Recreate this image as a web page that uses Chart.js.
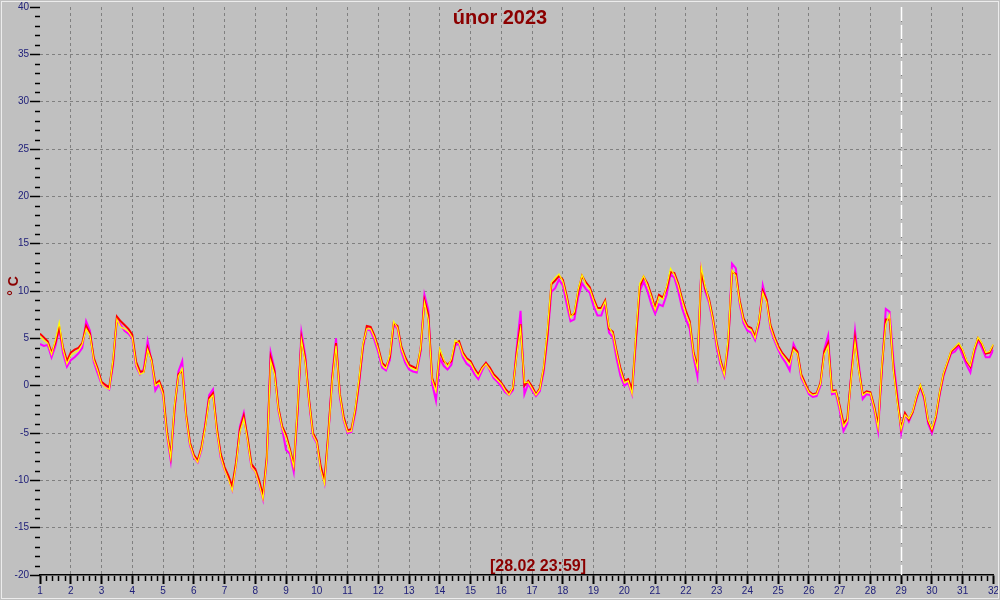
<!DOCTYPE html>
<html>
<head>
<meta charset="utf-8">
<script src="https://cdn.jsdelivr.net/npm/chart.js@4"></script>
<style>
  body { margin: 0; background: #c0c0c0; }
  canvas { display: block; background: #c0c0c0; }
</style>
</head>
<body>
<canvas id="chart" width="1000" height="600"></canvas>
<script>
// Temperature samples every 3 hours, starting at day 1 00:00 (8 per day)
const firstDay = 1;
const stepsPerDay = 8;

// red sensor
const redTemps = [
  5.5, 5.1, 4.7, 3.5, 4.5, 6.2, 4.0, 2.6,
  3.5, 3.8, 4.0, 4.5, 6.3, 5.5, 2.9, 1.8,
  0.4, 0.1, -0.2, 2.5, 7.3, 6.8, 6.4, 6.0,
  5.4, 2.5, 1.5, 1.5, 4.0, 2.8, 0.2, 0.5,
  -0.6, -4.8, -7.4, -2.3, 1.2, 1.6, -3.0, -6.0,
  -7.3, -7.9, -6.5, -4.2, -1.3, -0.8, -4.5, -7.2,
  -8.6, -9.5, -10.6, -8.1, -4.6, -3.2, -5.5, -8.3,
  -8.8, -10.0, -11.6, -7.5, 3.0, 1.5, -2.3, -4.3,
  -5.2, -6.7, -8.4, -2.5, 5.0, 2.8, -1.5, -5.0,
  -5.8, -8.5, -10.0, -5.0, 0.7, 4.5, -0.9, -3.3,
  -4.7, -4.6, -2.6, 0.5, 4.2, 6.3, 6.2, 5.3,
  4.0, 2.4, 2.0, 3.0, 6.6, 6.3, 4.1, 3.0,
  2.2, 2.0, 1.8, 3.8, 9.0, 7.5, 0.8, -0.3,
  3.7, 2.6, 2.2, 2.6, 4.5, 4.7, 3.5, 2.9,
  2.6, 1.8, 1.2, 1.9, 2.4, 1.9, 1.2, 0.8,
  0.3, -0.3, -0.8, -0.3, 3.5, 6.5, 0.0, 0.5,
  -0.1, -0.9, -0.3, 1.8, 5.5, 10.7, 11.1, 11.6,
  11.2, 9.5, 7.4, 7.6, 10.0, 11.6, 10.9, 10.4,
  9.2, 8.2, 8.2, 9.0, 6.0, 5.7, 3.6, 1.8,
  0.5, 0.7, -0.4, 5.0, 10.5, 11.5, 10.8, 9.6,
  8.2, 9.6, 9.3, 10.3, 12.0, 11.9, 10.8, 9.2,
  7.9, 6.8, 3.5, 2.0, 12.0, 10.3, 9.2, 7.2,
  4.6, 2.7, 1.3, 4.5, 12.0, 11.8, 9.0, 7.1,
  6.3, 6.1, 5.2, 6.7, 10.0, 9.1, 6.4, 5.2,
  4.2, 3.5, 3.0, 2.5, 4.0, 3.6, 1.2, 0.3,
  -0.6, -0.9, -0.8, 0.3, 3.6, 4.5, -0.5, -0.5,
  -2.1, -4.0, -3.5, 1.0, 5.0, 1.7, -0.9, -0.6,
  -0.7, -2.2, -4.2, 2.0, 7.0, 7.0, 1.8, -1.5,
  -4.5, -2.9, -3.6, -2.8, -1.2, 0.0, -1.2, -3.7,
  -4.7, -3.3, -0.8, 1.2, 2.4, 3.6, 4.0, 4.4,
  3.7, 2.6, 2.0, 3.8, 5.0, 4.4, 3.4, 3.5,
  4.3
];

// magenta sensor
const magentaTemps = [
  4.4, 4.2, 4.3, 3.0, 4.2, 6.0, 3.4, 2.0,
  2.7, 3.0, 3.4, 4.0, 6.8, 5.8, 2.5, 1.3,
  0.2, -0.1, -0.4, 2.2, 7.0, 6.4, 5.8, 5.5,
  5.0, 2.0, 1.2, 1.8, 4.7, 2.6, -0.5, 0.2,
  -1.0, -5.2, -7.9, -2.6, 1.5, 2.6, -3.3, -6.3,
  -7.6, -8.1, -6.8, -4.0, -1.0, -0.4, -4.8, -7.6,
  -8.9, -9.8, -11.0, -8.4, -4.3, -2.9, -5.8, -8.6,
  -9.1, -10.4, -12.0, -7.9, 3.5, 1.8, -2.6, -4.6,
  -6.8, -7.2, -9.1, -2.9, 5.6, 3.2, -1.8, -5.3,
  -6.1, -8.8, -10.3, -5.3, 1.0, 5.0, -1.2, -3.7,
  -5.0, -4.9, -2.9, 0.2, 4.0, 6.0, 5.8, 4.8,
  3.5, 1.9, 1.6, 2.7, 6.5, 6.0, 3.6, 2.4,
  1.7, 1.5, 1.4, 3.6, 9.6, 8.0, 0.2, -1.6,
  2.9, 2.1, 1.7, 2.2, 4.3, 4.4, 3.0, 2.3,
  2.0, 1.2, 0.7, 1.6, 2.4, 1.6, 0.8, 0.4,
  -0.1, -0.7, -1.0, -0.5, 4.0, 7.9, -0.9, 0.2,
  -0.5, -1.1, -0.6, 1.4, 5.0, 9.9, 10.3, 11.2,
  10.6, 8.6, 6.8, 7.0, 9.4, 10.8, 10.2, 9.8,
  8.4, 7.4, 7.4, 8.6, 5.6, 5.1, 2.8, 1.0,
  0.0, 0.3, -0.9, 4.6, 10.0, 11.0, 10.0, 8.6,
  7.6, 8.6, 8.4, 9.6, 11.8, 11.4, 10.0, 8.2,
  7.0, 6.0, 3.0, 1.0, 12.2, 10.0, 8.8, 6.8,
  4.0, 2.2, 1.0, 4.0, 12.9, 12.4, 8.6, 6.6,
  5.8, 5.6, 4.8, 6.4, 10.6, 9.0, 6.0, 4.8,
  3.8, 3.0, 2.4, 1.6, 4.4, 3.5, 0.8, 0.0,
  -0.9, -1.2, -1.1, 0.0, 3.8, 5.3, -0.9, -0.8,
  -2.6, -4.8, -4.0, 1.2, 5.8, 2.2, -1.4, -0.9,
  -1.0, -2.6, -4.8, 1.8, 8.1, 7.8, 2.6, -1.0,
  -5.0, -3.0, -3.8, -2.8, -1.4, -0.1, -1.4, -4.0,
  -5.0, -3.5, -1.0, 1.0, 2.3, 3.4, 3.6, 4.2,
  3.2, 2.2, 1.4, 3.4, 4.8, 4.0, 3.0, 3.0,
  3.8
];

// yellow sensor
const yellowTemps = [
  5.2, 4.8, 4.5, 3.3, 4.8, 6.7, 3.8, 2.3,
  3.2, 3.5, 3.7, 4.4, 6.0, 5.3, 2.7, 1.6,
  0.2, -0.2, -0.4, 2.8, 7.0, 6.2, 6.0, 5.7,
  5.1, 2.2, 1.2, 1.4, 3.8, 2.6, 0.0, 0.3,
  -0.9, -5.1, -7.6, -2.0, 1.0, 1.8, -3.3, -6.2,
  -7.5, -8.1, -6.7, -4.4, -1.5, -1.0, -4.8, -7.5,
  -8.9, -9.9, -11.1, -8.4, -4.9, -3.5, -5.8, -8.6,
  -9.1, -10.4, -12.0, -7.8, 2.6, 1.2, -2.5, -4.5,
  -5.5, -6.9, -8.6, -2.2, 4.8, 2.5, -1.7, -5.2,
  -6.0, -8.9, -10.4, -5.3, 0.5, 4.2, -1.0, -3.6,
  -4.9, -4.8, -2.4, 0.8, 4.4, 6.0, 6.0, 5.1,
  3.8, 2.2, 1.8, 3.3, 6.8, 6.1, 3.9, 2.8,
  2.0, 1.8, 1.6, 4.0, 8.8, 7.0, 0.6, -0.6,
  3.9, 2.8, 2.0, 2.8, 4.8, 4.5, 3.3, 2.7,
  2.4, 1.6, 1.0, 1.8, 2.3, 1.7, 1.0, 0.6,
  0.2, -0.5, -1.0, -0.2, 3.2, 6.0, 0.3, 0.4,
  -0.3, -1.0, -0.4, 2.0, 6.0, 10.9, 11.4, 11.8,
  11.0, 9.3, 7.2, 7.8, 10.2, 11.7, 10.7, 10.2,
  9.0, 8.0, 8.0, 8.9, 6.2, 5.5, 3.4, 1.6,
  0.3, 0.5, -0.9, 5.6, 10.8, 11.6, 10.6, 9.4,
  8.0, 9.4, 9.1, 10.5, 12.4, 11.7, 10.6, 9.0,
  7.6, 6.6, 3.3, 1.8, 12.6, 10.5, 9.0, 7.0,
  4.4, 2.5, 1.1, 5.0, 12.2, 11.6, 8.8, 6.9,
  6.1, 5.9, 5.0, 6.9, 9.8, 8.8, 6.2, 5.0,
  4.0, 3.3, 2.8, 2.2, 3.8, 3.4, 1.0, 0.1,
  -0.7, -1.0, -0.9, 0.2, 3.3, 4.2, -0.7, -0.6,
  -2.3, -4.3, -3.7, 0.8, 4.6, 1.5, -1.0, -0.7,
  -0.8, -2.4, -4.5, 2.3, 6.5, 7.5, 1.5, -1.8,
  -4.6, -3.1, -3.5, -2.7, -1.1, 0.1, -1.1, -3.6,
  -4.6, -3.2, -0.7, 1.3, 2.5, 3.7, 4.1, 4.5,
  3.8, 2.7, 2.1, 3.9, 5.1, 4.5, 3.5, 3.6,
  4.4
];

const chartTitle = 'únor 2023';
const lastReading = '[28.02 23:59]';
const nowDay = 29;
const yUnit = '° C';

const darkRed = '#8b0000';
const tickText = '#20207a';
const fontName = '"Liberation Sans", Arial, sans-serif';

function toPoints(temps) {
  return temps.map(function(t, i) {
    return { x: firstDay + i / stepsPerDay, y: t };
  });
}

// draws the frame, minor ticks, "now" marker and the texts
const decorPlugin = {
  id: 'decor',
  beforeDatasetsDraw(chart) {
    const ctx = chart.ctx;
    const xs = chart.scales.x;
    const ys = chart.scales.y;
    const area = chart.chartArea;

    ctx.save();
    ctx.strokeStyle = '#000';
    ctx.lineWidth = 1.5;
    // minor ticks on y, every degree
    for (let v = -20; v <= 40; v++) {
      if (v % 5 === 0) continue;
      const py = Math.round(ys.getPixelForValue(v)) + 0.5;
      ctx.beginPath();
      ctx.moveTo(area.left - 5, py);
      ctx.lineTo(area.left, py);
      ctx.stroke();
    }
    // minor ticks on x, 5 per day
    for (let d = 1; d < 32; d++) {
      for (let k = 1; k < 5; k++) {
        const px = Math.round(xs.getPixelForValue(d + k / 5)) + 0.5;
        ctx.beginPath();
        ctx.moveTo(px, area.bottom + 1);
        ctx.lineTo(px, area.bottom + 6);
        ctx.stroke();
      }
    }

    // white dashed "now" line
    const nx = Math.round(xs.getPixelForValue(nowDay)) + 0.5;
    ctx.strokeStyle = '#ffffff';
    ctx.lineWidth = 1.5;
    ctx.setLineDash([14, 4]);
    ctx.beginPath();
    ctx.moveTo(nx, area.top);
    ctx.lineTo(nx, area.bottom);
    ctx.stroke();
    ctx.restore();
  },
  afterDraw(chart) {
    const ctx = chart.ctx;
    ctx.save();
    // thin light frame round the picture
    ctx.strokeStyle = '#ececec';
    ctx.lineWidth = 1;
    ctx.strokeRect(1.5, 1.5, 997, 597);

    ctx.fillStyle = darkRed;
    ctx.textAlign = 'center';
    ctx.textBaseline = 'alphabetic';
    ctx.font = 'bold 20px ' + fontName;
    ctx.fillText(chartTitle, 500, 24);
    ctx.font = 'bold 16px ' + fontName;
    ctx.fillText(lastReading, 538, 571);

    ctx.translate(18, 286);
    ctx.rotate(-Math.PI / 2);
    ctx.font = 'bold 14px ' + fontName;
    ctx.fillText(yUnit, 0, 0);
    ctx.restore();
  }
};

new Chart(document.getElementById('chart'), {
  type: 'line',
  data: {
    datasets: [
      // lower "order" is drawn on top: yellow over red over magenta
      { label: 'magenta', data: toPoints(magentaTemps), borderColor: '#ff00ff', borderWidth: 2, order: 3 },
      { label: 'red', data: toPoints(redTemps), borderColor: '#ff0000', borderWidth: 2, order: 2 },
      { label: 'yellow', data: toPoints(yellowTemps), borderColor: '#ffff00', borderWidth: 1.2, order: 1 }
    ]
  },
  options: {
    responsive: false,
    animation: false,
    devicePixelRatio: 1,
    layout: { padding: { top: 5, right: 5, left: 0, bottom: 0 } },
    elements: {
      point: { radius: 0 },
      line: { tension: 0, fill: false }
    },
    plugins: {
      legend: { display: false },
      tooltip: { enabled: false }
    },
    scales: {
      x: {
        type: 'linear',
        min: 1,
        max: 32,
        afterFit: function(scale) { scale.height = 25; },
        ticks: {
          stepSize: 1,
          autoSkip: false,
          maxRotation: 0,
          padding: 1,
          color: tickText,
          font: { family: fontName, size: 10 }
        },
        grid: {
          color: function(c) {
            const v = c.tick ? c.tick.value : null;
            return (v === 1 || v === 32) ? 'rgba(0,0,0,0)' : '#808080';
          },
          tickColor: '#000',
          tickLength: 9,
          tickWidth: 2,
          lineWidth: 1
        },
        border: { display: true, color: '#000', width: 1.5, dash: [3, 3] }
      },
      y: {
        min: -20,
        max: 40,
        afterFit: function(scale) { scale.width = 40; },
        ticks: {
          stepSize: 5,
          padding: 1,
          color: tickText,
          font: { family: fontName, size: 10 }
        },
        grid: {
          color: function(c) {
            const v = c.tick ? c.tick.value : null;
            return (v === 40 || v === -20) ? 'rgba(0,0,0,0)' : '#808080';
          },
          tickColor: '#000',
          tickLength: 10,
          tickWidth: 1.5,
          lineWidth: 1
        },
        border: { display: false, dash: [3, 3] }
      }
    }
  },
  plugins: [decorPlugin]
});
</script>
</body>
</html>
